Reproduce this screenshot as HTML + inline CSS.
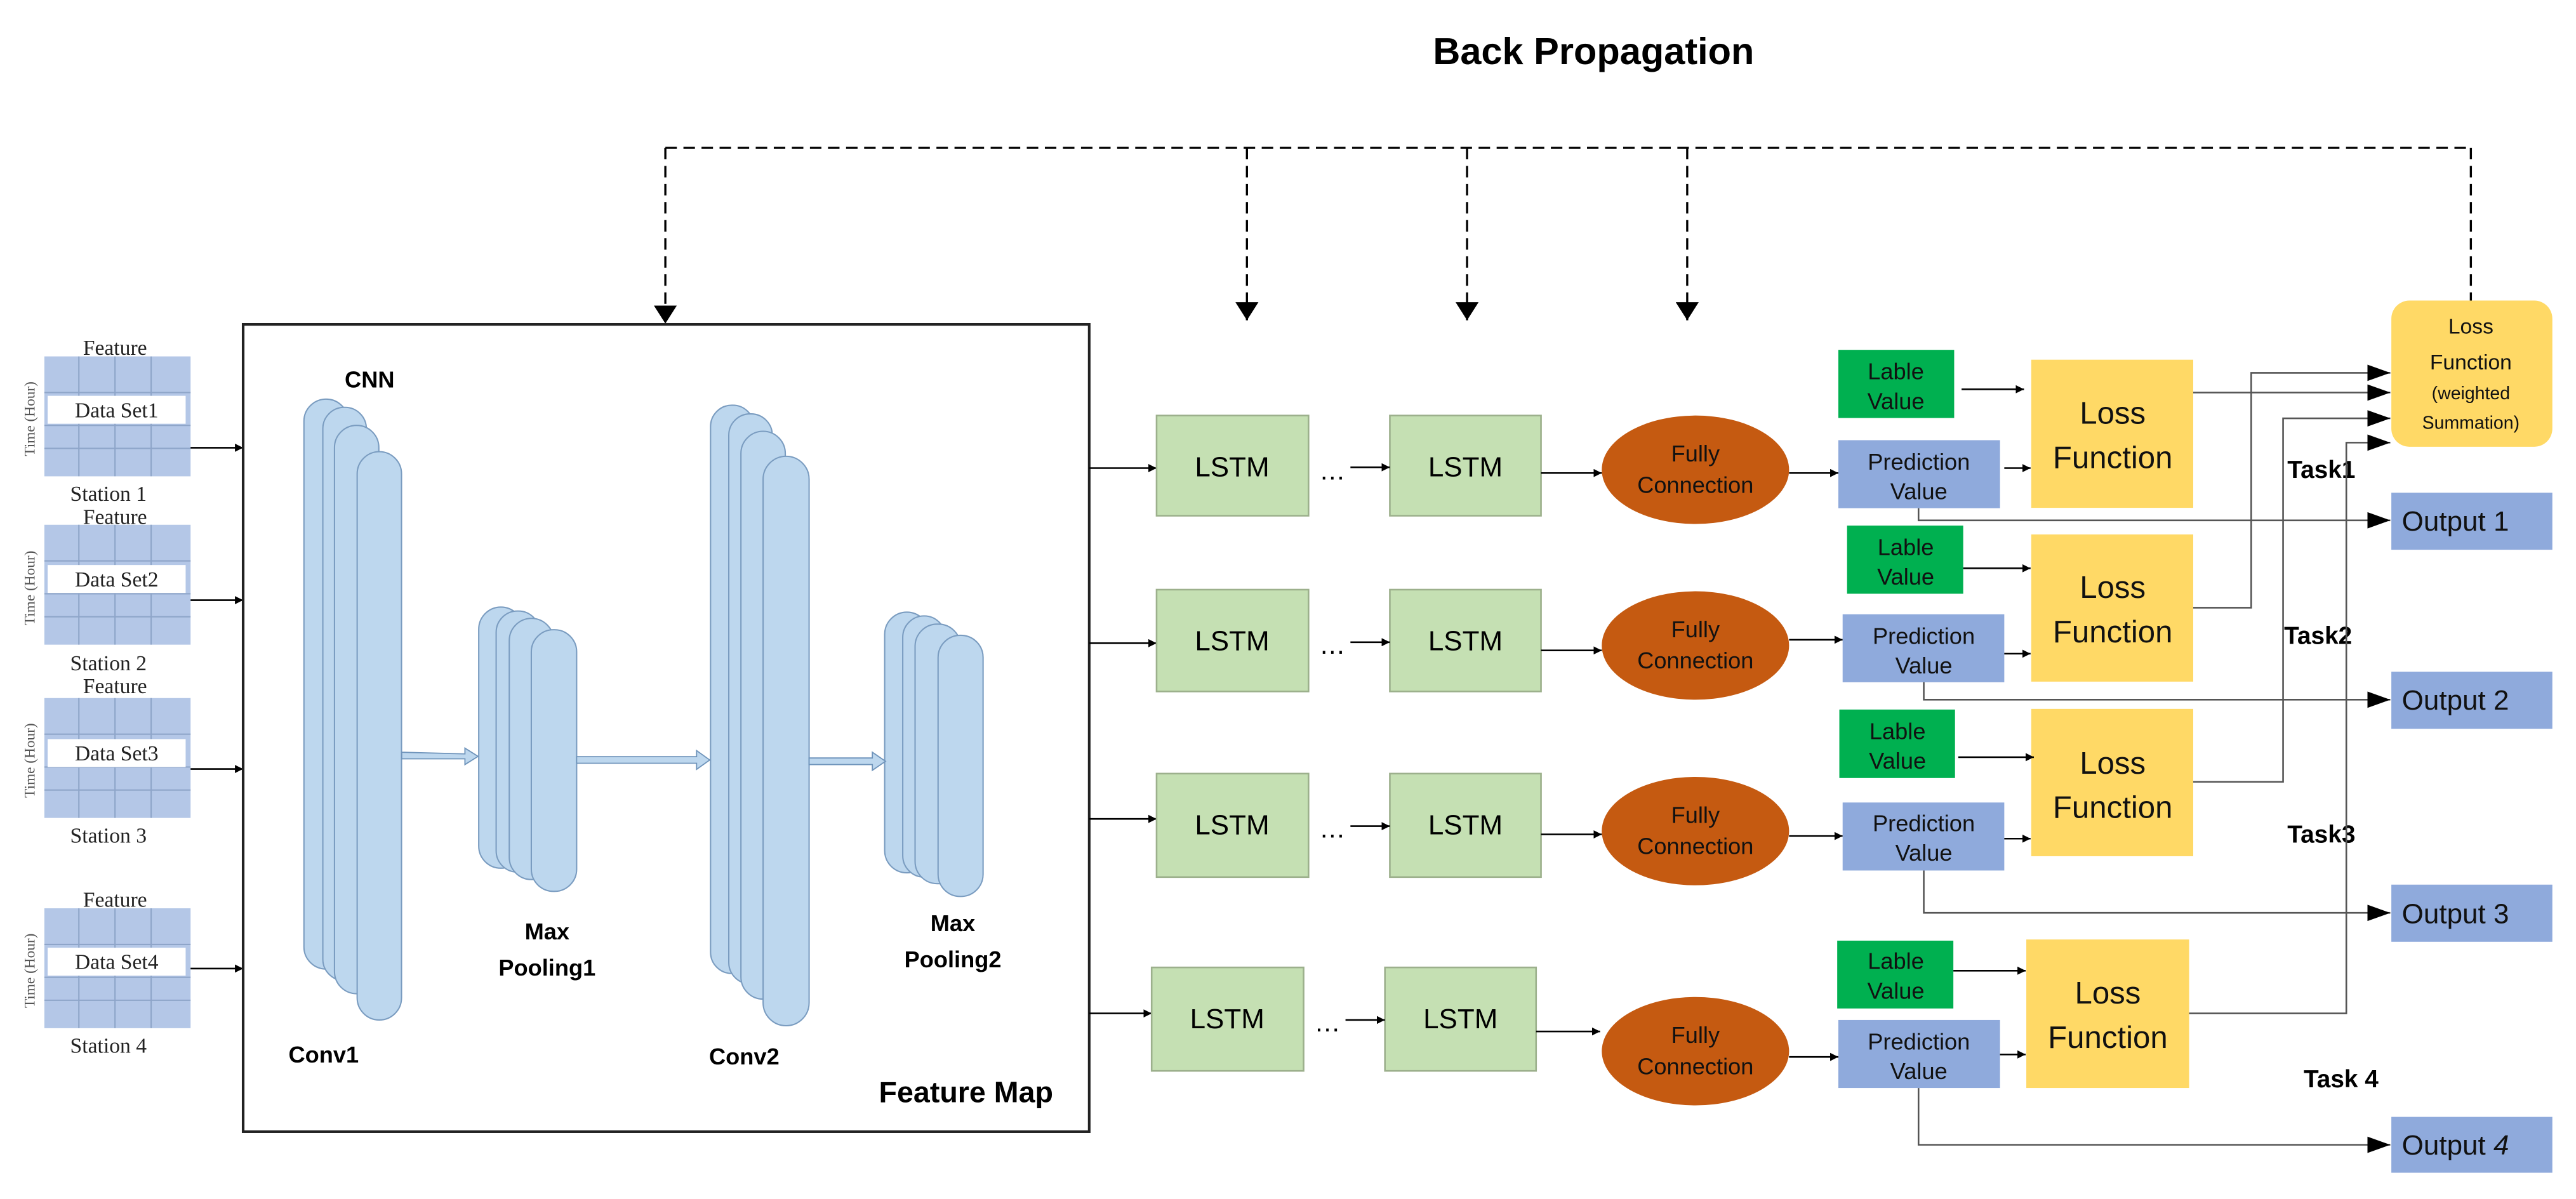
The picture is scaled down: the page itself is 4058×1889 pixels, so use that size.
<!DOCTYPE html>
<html><head><meta charset="utf-8"><style>html,body{margin:0;padding:0;background:#fff}svg{display:block}</style></head>
<body>
<svg width="4058" height="1889" viewBox="0 0 1568 730" preserveAspectRatio="none" xmlns="http://www.w3.org/2000/svg" font-family="'Liberation Sans', sans-serif">
<defs>
<marker id="a" viewBox="0 0 10 10" refX="10" refY="5" markerWidth="5" markerHeight="5" orient="auto" markerUnits="userSpaceOnUse"><path d="M0,0L10,5L0,10z" fill="#000"/></marker>
<marker id="b" viewBox="0 0 10 10" refX="10" refY="5" markerWidth="11" markerHeight="14" orient="auto" markerUnits="userSpaceOnUse" preserveAspectRatio="none"><path d="M0,0L10,5L0,10z" fill="#000"/></marker>
<marker id="c" viewBox="0 0 10 10" refX="10" refY="5" markerWidth="14" markerHeight="10" orient="auto" markerUnits="userSpaceOnUse" preserveAspectRatio="none"><path d="M0,0L10,5L0,10z" fill="#000"/></marker>
<g id="grid">
<rect x="0" y="0" width="89" height="73" fill="#b4c7e7"/>
<g stroke="#8ea5c9" stroke-width="0.8"><line x1="21" y1="0" x2="21" y2="73"/><line x1="43" y1="0" x2="43" y2="73"/><line x1="65" y1="0" x2="65" y2="73"/><line x1="0" y1="22" x2="89" y2="22"/><line x1="0" y1="42" x2="89" y2="42"/><line x1="0" y1="56" x2="89" y2="56"/></g>
</g>
</defs>

<text x="970" y="39" font-size="23" font-weight="bold" text-anchor="middle">Back  Propagation</text>

<g stroke="#000" stroke-width="1.3" stroke-dasharray="7,4" fill="none">
<line x1="405" y1="90" x2="1504" y2="90"/>
<line x1="1504" y1="90" x2="1504" y2="183"/>
</g>
<g stroke="#000" stroke-width="1.3" stroke-dasharray="7,4" fill="none" marker-end="url(#b)">
<line x1="405" y1="90" x2="405" y2="197"/>
<line x1="759" y1="90" x2="759" y2="195"/>
<line x1="893" y1="90" x2="893" y2="195"/>
<line x1="1027" y1="90" x2="1027" y2="195"/>
</g>

<g font-family="'Liberation Serif', serif" font-size="13" fill="#222">
<use href="#grid" x="27" y="217"/><text x="70" y="216" text-anchor="middle">Feature</text>
<rect x="29" y="241" width="84" height="17" fill="#fff"/><text x="71" y="254" text-anchor="middle">Data Set1</text>
<text x="66" y="305" text-anchor="middle">Station 1</text>
<use href="#grid" x="27" y="319.5"/><text x="70" y="319" text-anchor="middle">Feature</text>
<rect x="29" y="344" width="84" height="17" fill="#fff"/><text x="71" y="357" text-anchor="middle">Data Set2</text>
<text x="66" y="408" text-anchor="middle">Station 2</text>
<use href="#grid" x="27" y="425"/><text x="70" y="422" text-anchor="middle">Feature</text>
<rect x="29" y="450" width="84" height="17" fill="#fff"/><text x="71" y="463" text-anchor="middle">Data Set3</text>
<text x="66" y="513" text-anchor="middle">Station 3</text>
<use href="#grid" x="27" y="553"/><text x="70" y="552" text-anchor="middle">Feature</text>
<rect x="29" y="577" width="84" height="17" fill="#fff"/><text x="71" y="590" text-anchor="middle">Data Set4</text>
<text x="66" y="641" text-anchor="middle">Station 4</text>
<g font-size="9" fill="#555">
<text transform="translate(21,255) rotate(-90)" text-anchor="middle">Time (Hour)</text>
<text transform="translate(21,358) rotate(-90)" text-anchor="middle">Time (Hour)</text>
<text transform="translate(21,463) rotate(-90)" text-anchor="middle">Time (Hour)</text>
<text transform="translate(21,591) rotate(-90)" text-anchor="middle">Time (Hour)</text>
</g>
</g>
<g stroke="#000" stroke-width="1" marker-end="url(#a)">
<line x1="116" y1="272.6" x2="148" y2="272.6"/>
<line x1="116" y1="365.4" x2="148" y2="365.4"/>
<line x1="116" y1="468.2" x2="148" y2="468.2"/>
<line x1="116" y1="589.7" x2="148" y2="589.7"/>
</g>

<rect x="148" y="197.5" width="515" height="491.5" fill="none" stroke="#222" stroke-width="1.6"/>
<g fill="#bdd7ee" stroke="#7a9cc0" stroke-width="0.8">
<rect x="185" y="243" width="27" height="347" rx="13.5"/>
<rect x="196.5" y="248" width="26.5" height="349" rx="13"/>
<rect x="203.6" y="259" width="27" height="346" rx="13.5"/>
<rect x="217.4" y="275" width="27" height="346" rx="13.5"/>
<rect x="291.4" y="369.6" width="27" height="159" rx="13.5"/>
<rect x="302" y="372" width="26.5" height="159" rx="13"/>
<rect x="310" y="376.5" width="27" height="159" rx="13.5"/>
<rect x="323.4" y="383.4" width="27.6" height="159.3" rx="13.5"/>
<rect x="432.5" y="246.7" width="26.5" height="346" rx="13"/>
<rect x="443.6" y="252" width="26.5" height="347" rx="13"/>
<rect x="451" y="262.6" width="27" height="345.7" rx="13.5"/>
<rect x="464.5" y="277.8" width="28" height="346.7" rx="14"/>
<rect x="538.5" y="372.7" width="27" height="158.7" rx="13.5"/>
<rect x="549.5" y="375" width="26" height="159" rx="13"/>
<rect x="557" y="380" width="27.7" height="158" rx="13.5"/>
<rect x="571" y="386.8" width="27.4" height="159" rx="13.5"/>
</g>
<g fill="#bdd7ee" stroke="#6f94bb" stroke-width="0.7">
<path d="M244.5,458 L283,459 L283,455.5 L291,460.5 L283,465.5 L283,462 L244.5,462z"/>
<path d="M351,460.7 L424,460.7 L424,457 L432,462.7 L424,468.4 L424,464.7 L351,464.7z"/>
<path d="M492.5,461.5 L531,461.5 L531,458 L539,463.5 L531,469 L531,465.5 L492.5,465.5z"/>
</g>
<g font-weight="bold" text-anchor="middle" font-size="14">
<text x="225" y="236">CNN</text>
<text x="197" y="647">Conv1</text>
<text x="333" y="572">Max</text><text x="333" y="594">Pooling1</text>
<text x="453" y="648">Conv2</text>
<text x="580" y="567">Max</text><text x="580" y="589">Pooling2</text>
<text x="588" y="671" font-size="18">Feature Map</text>
</g>

<g stroke="#000" stroke-width="1" marker-end="url(#a)">
<line x1="663" y1="285" x2="704" y2="285"/>
<line x1="663" y1="391.6" x2="704" y2="391.6"/>
<line x1="663" y1="498.6" x2="704" y2="498.6"/>
<line x1="663" y1="617" x2="701" y2="617"/>
</g>

<g fill="#c5e0b3" stroke="#9cb08c" stroke-width="1">
<rect x="704" y="253" width="92.5" height="61"/><rect x="846" y="253" width="92" height="61"/>
<rect x="704" y="359" width="92.5" height="62"/><rect x="846" y="359" width="92" height="62"/>
<rect x="704" y="471" width="92.5" height="63"/><rect x="846" y="471" width="92" height="63"/>
<rect x="701" y="589" width="92.5" height="63"/><rect x="843" y="589" width="92" height="63"/>
</g>
<g font-size="17" text-anchor="middle">
<text x="750" y="290">LSTM</text><text x="892" y="290">LSTM</text>
<text x="750" y="396">LSTM</text><text x="892" y="396">LSTM</text>
<text x="750" y="508">LSTM</text><text x="892" y="508">LSTM</text>
<text x="747" y="626">LSTM</text><text x="889" y="626">LSTM</text>
</g>
<g font-size="16"><text x="803" y="292">…</text><text x="803" y="398">…</text><text x="803" y="510">…</text><text x="800" y="628">…</text></g>
<g stroke="#000" stroke-width="1" marker-end="url(#a)">
<line x1="822" y1="284.5" x2="846" y2="284.5"/><line x1="822" y1="391" x2="846" y2="391"/><line x1="822" y1="503" x2="846" y2="503"/><line x1="819" y1="621" x2="843" y2="621"/>
<line x1="938" y1="288" x2="975" y2="288"/><line x1="938" y1="396" x2="975" y2="396"/><line x1="938" y1="508" x2="975" y2="508"/><line x1="935" y1="628" x2="974" y2="628"/>
<line x1="1089" y1="288" x2="1119" y2="288"/><line x1="1089" y1="389.5" x2="1121.6" y2="389.5"/><line x1="1089" y1="509" x2="1121.6" y2="509"/><line x1="1089" y1="643.5" x2="1119" y2="643.5"/>
</g>
<g fill="#c55a11">
<ellipse cx="1032" cy="286" rx="57" ry="33"/><ellipse cx="1032" cy="393" rx="57" ry="33"/><ellipse cx="1032" cy="506" rx="57" ry="33"/><ellipse cx="1032" cy="640" rx="57" ry="33"/>
</g>
<g font-size="14" text-anchor="middle" fill="#111">
<text x="1032" y="281">Fully</text><text x="1032" y="300">Connection</text>
<text x="1032" y="388">Fully</text><text x="1032" y="407">Connection</text>
<text x="1032" y="501">Fully</text><text x="1032" y="520">Connection</text>
<text x="1032" y="635">Fully</text><text x="1032" y="654">Connection</text>
</g>

<g fill="#00b050">
<rect x="1119" y="213" width="70.5" height="41.5"/><rect x="1124.3" y="320" width="70.7" height="41.5"/><rect x="1119.6" y="432" width="70.4" height="41.7"/><rect x="1118.3" y="572.7" width="70.7" height="41.3"/>
</g>
<g fill="#8faadc">
<rect x="1119" y="268" width="98.4" height="41.4"/><rect x="1121.6" y="374" width="98.4" height="41.4"/><rect x="1121.6" y="488.6" width="98.4" height="41.4"/><rect x="1119" y="621" width="98.4" height="41.4"/>
<rect x="1455.6" y="300" width="98" height="34.7"/><rect x="1455.6" y="409" width="98" height="34.7"/><rect x="1455.6" y="538.6" width="98" height="34.8"/><rect x="1455.6" y="680" width="98" height="34"/>
</g>
<g fill="#ffd966">
<rect x="1236.4" y="219" width="98.6" height="90.2"/><rect x="1236.4" y="325.4" width="98.6" height="89.6"/><rect x="1236.4" y="431.6" width="98.6" height="89.7"/><rect x="1233.4" y="572" width="99.1" height="90.4"/>
<rect x="1455.6" y="183" width="98" height="89" rx="11"/>
</g>
<g font-size="14" text-anchor="middle" fill="#111">
<text x="1154" y="231">Lable</text><text x="1154" y="249">Value</text>
<text x="1160" y="338">Lable</text><text x="1160" y="356">Value</text>
<text x="1155" y="450">Lable</text><text x="1155" y="468">Value</text>
<text x="1154" y="590">Lable</text><text x="1154" y="608">Value</text>
<text x="1168" y="286">Prediction</text><text x="1168" y="304">Value</text>
<text x="1171" y="392">Prediction</text><text x="1171" y="410">Value</text>
<text x="1171" y="506">Prediction</text><text x="1171" y="524">Value</text>
<text x="1168" y="639">Prediction</text><text x="1168" y="657">Value</text>
</g>
<g font-size="19" text-anchor="middle" fill="#111">
<text x="1286" y="258">Loss</text><text x="1286" y="285">Function</text>
<text x="1286" y="364">Loss</text><text x="1286" y="391">Function</text>
<text x="1286" y="471">Loss</text><text x="1286" y="498">Function</text>
<text x="1283" y="611">Loss</text><text x="1283" y="638">Function</text>
</g>
<g text-anchor="middle" fill="#111">
<text x="1504" y="203" font-size="13">Loss</text><text x="1504" y="225" font-size="13">Function</text>
<text x="1504" y="243" font-size="11">(weighted</text><text x="1504" y="261" font-size="11">Summation)</text>
</g>
<g font-size="17" fill="#111">
<text x="1462" y="323">Output 1</text><text x="1462" y="432">Output 2</text><text x="1462" y="562">Output 3</text><text x="1462" y="703">Output <tspan font-style="italic">4</tspan></text>
</g>
<g font-size="15" font-weight="bold" text-anchor="middle">
<text x="1413" y="291">Task1</text><text x="1411" y="392">Task2</text><text x="1413" y="513">Task3</text><text x="1425" y="662">Task 4</text>
</g>

<g stroke="#000" stroke-width="1" marker-end="url(#a)">
<line x1="1194" y1="237" x2="1232" y2="237"/><line x1="1220" y1="285" x2="1236" y2="285"/>
<line x1="1195" y1="346" x2="1236" y2="346"/><line x1="1220" y1="398" x2="1236" y2="398"/>
<line x1="1192" y1="461" x2="1238" y2="461"/><line x1="1220" y1="510.6" x2="1236" y2="510.6"/>
<line x1="1189" y1="591" x2="1233" y2="591"/><line x1="1217.4" y1="642" x2="1233" y2="642"/>
</g>
<g stroke="#555" stroke-width="1" fill="none" marker-end="url(#c)">
<polyline points="1335,239 1455,239"/>
<polyline points="1335,370 1370.3,370 1370.3,227 1455,227"/>
<polyline points="1335,476 1389.7,476 1389.7,254.7 1455,254.7"/>
<polyline points="1332.5,617 1428.2,617 1428.2,269.5 1455,269.5"/>
</g>
<g stroke="#555" stroke-width="1" fill="none" marker-end="url(#c)">
<polyline points="1167.8,309.4 1167.8,316.8 1455,316.8"/>
<polyline points="1171,415.4 1171,426 1455,426"/>
<polyline points="1171,530 1171,555.8 1455,555.8"/>
<polyline points="1167.8,662.4 1167.8,697 1455,697"/>
</g>
</svg>
</body></html>
